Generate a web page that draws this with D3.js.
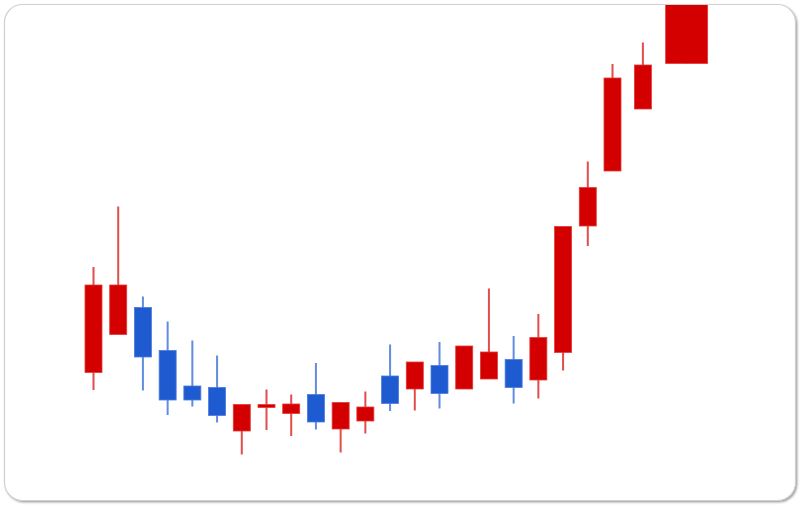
<!DOCTYPE html>
<html>
<head>
<meta charset="utf-8">
<script src="https://cdn.jsdelivr.net/npm/d3@7"></script>
<style>
  html, body { margin: 0; padding: 0; background: #fff; }
  svg { display: block; }
</style>
</head>
<body>
<svg id="chart" width="800" height="507"></svg>
<script>
// session position (day index)
const days = [0, 1, 2, 3, 4, 5, 6, 7, 8, 9, 10, 11, 12, 13, 14, 15, 16, 17, 18, 19, 20, 21, 22.23, 24];
const opens = [25.5, 33.1, 38.5, 29.9, 22.8, 22.5, 13.8, 18.5, 17.3, 21.1, 14.2, 15.8, 24.8, 22.2, 26.9, 22.2, 24.2, 28.1, 24.0, 29.5, 54.8, 65.8, 78.2, 87.3];
const closes = [43.0, 43.0, 28.6, 20.0, 20.0, 16.9, 19.1, 19.1, 19.2, 15.6, 19.5, 18.6, 19.3, 27.6, 21.3, 30.8, 29.6, 22.5, 32.5, 54.7, 62.5, 84.4, 87.0, 102];
const highs = [46.6, 58.7, 40.7, 35.7, 31.9, 28.9, 19.1, 22.1, 21.1, 27.4, 19.5, 21.7, 31.1, 27.6, 31.6, 30.8, 42.3, 32.8, 37.2, 54.7, 67.7, 87.2, 91.5, 102];
const lows = [22.0, 33.1, 21.9, 17.0, 18.7, 15.5, 9.1, 14.0, 12.8, 14.1, 9.5, 13.3, 17.8, 17.9, 18.3, 22.2, 24.2, 19.3, 20.3, 25.9, 50.8, 65.8, 78.2, 87.3];

const candles = days.map((d, i) => ({
  day: d, open: opens[i], close: closes[i], high: highs[i], low: lows[i]
}));

const width = 800;
const height = 507;
const frame = {x: 4.5, y: 4.5, w: 791, h: 496, r: 18};

const svg = d3.select('#chart');

// drop shadow for the card
const defs = svg.append('defs');
const shadow = defs.append('filter')
  .attr('id', 'cardShadow')
  .attr('x', '-5%').attr('y', '-5%')
  .attr('width', '110%').attr('height', '110%');
shadow.append('feDropShadow')
  .attr('dx', 1.5).attr('dy', 1.5)
  .attr('stdDeviation', 1.2)
  .attr('flood-color', '#000')
  .attr('flood-opacity', 0.45);

defs.append('clipPath').attr('id', 'cardClip')
  .append('rect')
  .attr('x', frame.x).attr('y', frame.y)
  .attr('width', frame.w).attr('height', frame.h)
  .attr('rx', frame.r);

svg.append('rect')
  .attr('x', frame.x).attr('y', frame.y)
  .attr('width', frame.w).attr('height', frame.h)
  .attr('rx', frame.r)
  .attr('fill', '#fff')
  .attr('filter', 'url(#cardShadow)');

const x = d3.scaleLinear()
  .domain([0, 21])
  .range([93.5, 612.5]);

const y = d3.scaleLinear()
  .domain([0, 100])
  .range([500, 0]);

const bodyW = 17;
const upColor = '#d40000';
const downColor = '#1f5bd0';

const plot = svg.append('g').attr('clip-path', 'url(#cardClip)');

const g = plot.selectAll('g.candle')
  .data(candles)
  .join('g')
  .attr('class', 'candle');

g.append('line')
  .attr('x1', d => x(d.day))
  .attr('x2', d => x(d.day))
  .attr('y1', d => y(d.high))
  .attr('y2', d => y(d.low))
  .attr('stroke', d => d.close >= d.open ? upColor : downColor)
  .attr('stroke-opacity', 0.7)
  .attr('stroke-width', 2);

g.append('rect')
  .attr('x', (d, i) => x(d.day) - (i === candles.length - 1 ? 21 : bodyW / 2))
  .attr('width', (d, i) => i === candles.length - 1 ? 42 : bodyW)
  .attr('y', d => y(Math.max(d.open, d.close)))
  .attr('height', d => Math.max(2.5, Math.abs(y(d.open) - y(d.close))))
  .attr('fill', d => d.close >= d.open ? upColor : downColor)
  .attr('stroke', d => d.close >= d.open ? '#e23a3a' : '#4a7be0')
  .attr('stroke-width', 0.8);

// card border on top
svg.append('rect')
  .attr('x', frame.x).attr('y', frame.y)
  .attr('width', frame.w).attr('height', frame.h)
  .attr('rx', frame.r)
  .attr('fill', 'none')
  .attr('stroke', '#d0d0d0')
  .attr('stroke-width', 1.2);
</script>
</body>
</html>
